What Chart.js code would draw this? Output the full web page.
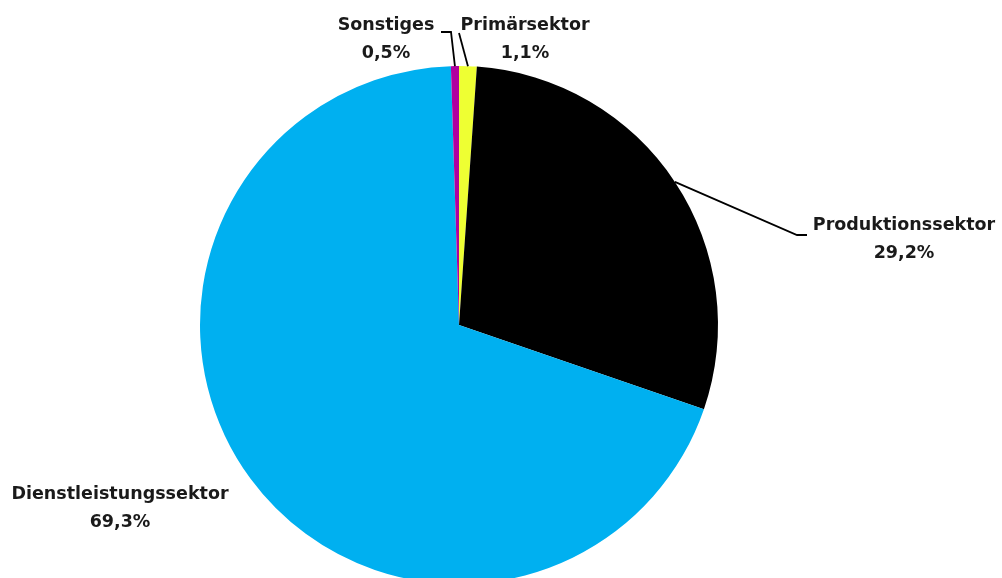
<!DOCTYPE html>
<html>
<head>
<meta charset="utf-8">
<script src="https://cdn.jsdelivr.net/npm/chart.js@4"></script>
<style>
  html, body { margin: 0; padding: 0; background: #fff; overflow: hidden; }
  #wrap { width: 1002px; height: 578px; overflow: hidden; }
</style>
</head>
<body>
<div id="wrap">
  <canvas id="sektorChart" width="1002" height="600"></canvas>
</div>
<script>
// Beschäftigte nach Sektoren (Anteile in %)
const sektoren = ['Primärsektor', 'Produktionssektor', 'Dienstleistungssektor', 'Sonstiges'];
const anteile = [1.1, 29.2, 69.3, 0.5];
const farben = ['#EEFF33', '#000000', '#00B0F0', '#B0009F'];

// Textblock-Mitte und Knickpunkt der Führungslinie je Segment
const labelLayout = [
  { x: 525, y: 25, elbow: { x: 459, y: 33 }, stub: 0 },
  { x: 904, y: 225, elbow: { x: 797, y: 235 }, stub: 10 },
  { x: 120, y: 494, elbow: null },
  { x: 386, y: 25, elbow: { x: 451, y: 32 }, stub: -10 }
];

const fmt = v => v.toFixed(1).replace('.', ',') + '%';

const calloutPlugin = {
  id: 'callouts',
  afterDraw(chart) {
    const ctx = chart.ctx;
    const arcs = chart.getDatasetMeta(0).data;
    ctx.save();
    arcs.forEach((arc, i) => {
      const p = arc.getProps(['x', 'y', 'startAngle', 'endAngle', 'outerRadius'], true);
      const mid = (p.startAngle + p.endAngle) / 2;
      const lay = labelLayout[i];

      if (lay.elbow) {
        const ex = p.x + Math.cos(mid) * p.outerRadius;
        const ey = p.y + Math.sin(mid) * p.outerRadius;
        ctx.strokeStyle = '#000';
        ctx.lineWidth = 1.8;
        ctx.beginPath();
        ctx.moveTo(ex, ey);
        ctx.lineTo(lay.elbow.x, lay.elbow.y);
        if (lay.stub) ctx.lineTo(lay.elbow.x + lay.stub, lay.elbow.y);
        ctx.stroke();
      }

      ctx.fillStyle = '#1a1a1a';
      ctx.font = 'bold 17.5px "DejaVu Sans"';
      ctx.textAlign = 'center';
      ctx.textBaseline = 'middle';
      ctx.fillText(sektoren[i], lay.x, lay.y);
      ctx.fillText(fmt(anteile[i]), lay.x, lay.y + 28);
    });
    ctx.restore();
  }
};

new Chart(document.getElementById('sektorChart').getContext('2d'), {
  type: 'pie',
  data: {
    labels: sektoren,
    datasets: [{
      data: anteile,
      backgroundColor: farben,
      borderWidth: 0,
      hoverOffset: 0
    }]
  },
  options: {
    responsive: false,
    animation: false,
    layout: { padding: { left: 200, right: 284, top: 66, bottom: 16 } },
    plugins: {
      legend: { display: false },
      tooltip: { enabled: false }
    }
  },
  plugins: [calloutPlugin]
});
</script>
</body>
</html>
